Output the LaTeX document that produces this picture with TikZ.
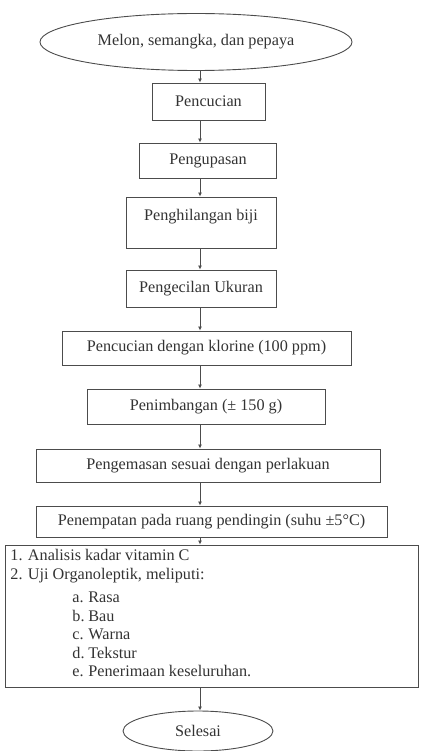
\documentclass[tikz,border=0pt]{standalone}
\usepackage{fontspec}
\setmainfont{Liberation Serif}
\usetikzlibrary{shapes.geometric,arrows.meta,positioning}

\begin{document}
\begin{tikzpicture}[x=1pt, y=-1pt, >={Latex[length=4pt,width=4pt]},
    proses/.style={draw=black!70, line width=0.9pt, rectangle, inner sep=2pt,
        text=black!80, font=\fontsize{16.2}{18.5}\selectfont},
    terminal/.style={proses, ellipse},
    alur/.style={->, draw=black!70, line width=0.9pt}]
    \useasboundingbox (0,0) rectangle (420,751);
    \coordinate (sumbu) at (200,0);
    % bagan alir
    \node[terminal, minimum width=312pt, minimum height=57pt] (mulai) at (196,42) {Melon, semangka, dan pepaya};
    \node[proses, minimum width=113pt, minimum height=37pt] (cuci) at (208.5,101.5) {Pencucian};
    \node[proses, minimum width=137pt, minimum height=35pt] (kupas) at (208,160.5) {Pengupasan};
    \node[proses, minimum width=150pt, minimum height=51pt,
        label={[proses, draw=none, anchor=north, yshift=-10pt]north:Penghilangan biji}] (biji) at (201,222.5) {};
    \node[proses, minimum width=150pt, minimum height=37pt] (kecil) at (201,288.5) {Pengecilan Ukuran};
    \node[proses, minimum width=289pt, minimum height=34pt] (klorin) at (206.5,348) {Pencucian dengan klorine (100 ppm)};
    \node[proses, minimum width=238pt, minimum height=35pt] (timbang) at (206,406.5) {Penimbangan (± 150 g)};
    \node[proses, minimum width=344pt, minimum height=33pt] (kemas) at (208,465.5) {Pengemasan sesuai dengan perlakuan};
    \node[proses, minimum width=351pt, minimum height=31pt] (dingin) at (211.5,521.5) {Penempatan pada ruang pendingin (suhu ±5°C)};
    \node[proses, minimum width=413pt, minimum height=142pt] (analisis) at (211.5,616) {};
    \node[proses, draw=none, align=left, anchor=north west, inner sep=0pt] (daftar) at (10,549)
        {1. Analisis kadar vitamin C\\
         2. Uji Organoleptik, meliputi:\\[5pt]
         \hspace*{62pt}\makebox[16pt][l]{a.}Rasa\\
         \hspace*{62pt}\makebox[16pt][l]{b.}Bau\\
         \hspace*{62pt}\makebox[16pt][l]{c.}Warna\\
         \hspace*{62pt}\makebox[16pt][l]{d.}Tekstur\\
         \hspace*{62pt}\makebox[16pt][l]{e.}Penerimaan keseluruhan.};
    \node[terminal, minimum width=150pt, minimum height=40pt] (selesai) at (198,731) {Selesai};
    % panah
    \foreach \a/\b in {mulai/cuci, cuci/kupas, kupas/biji, biji/kecil, kecil/klorin,
        klorin/timbang, timbang/kemas, kemas/dingin, dingin/analisis, analisis/selesai}
        \draw[alur] (sumbu |- \a.south) -- (sumbu |- \b.north);
\end{tikzpicture}
\end{document}
